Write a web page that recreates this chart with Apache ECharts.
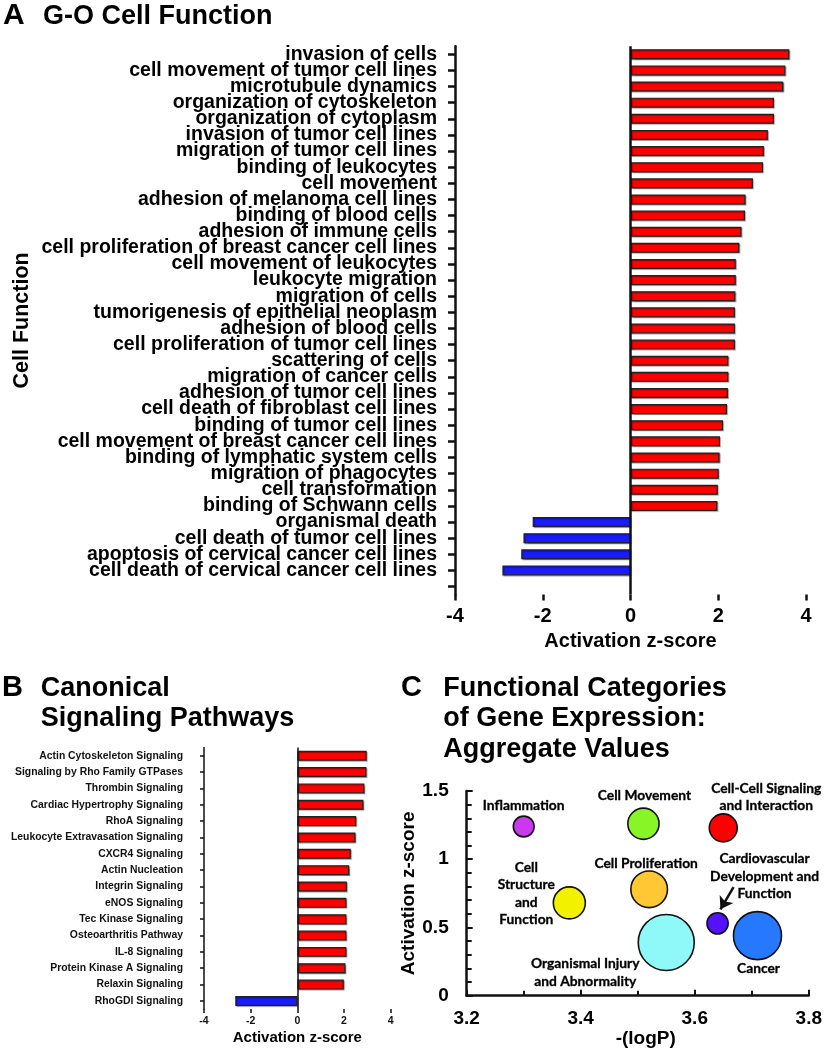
<!DOCTYPE html>
<html>
<head>
<meta charset="utf-8">
<script src="https://cdn.jsdelivr.net/npm/echarts@6/dist/echarts.min.js"></script>
<style>
  html, body { margin: 0; padding: 0; background: #fff; }
  #chart { width: 825px; height: 1051px; }
</style>
</head>
<body>
<div id="chart"></div>
<script>
// ---------- Panel A: G-O Cell Function ----------
const aCategories = [
  'invasion of cells', 'cell movement of tumor cell lines', 'microtubule dynamics',
  'organization of cytoskeleton', 'organization of cytoplasm', 'invasion of tumor cell lines',
  'migration of tumor cell lines', 'binding of leukocytes', 'cell movement',
  'adhesion of melanoma cell lines', 'binding of blood cells', 'adhesion of immune cells',
  'cell proliferation of breast cancer cell lines', 'cell movement of leukocytes', 'leukocyte migration',
  'migration of cells', 'tumorigenesis of epithelial neoplasm', 'adhesion of blood cells',
  'cell proliferation of tumor cell lines', 'scattering of cells', 'migration of cancer cells',
  'adhesion of tumor cell lines', 'cell death of fibroblast cell lines', 'binding of tumor cell lines',
  'cell movement of breast cancer cell lines', 'binding of lymphatic system cells', 'migration of phagocytes',
  'cell transformation', 'binding of Schwann cells', 'organismal death',
  'cell death of tumor cell lines', 'apoptosis of cervical cancer cell lines', 'cell death of cervical cancer cell lines',
  ''
];
const aValues = [
  3.62, 3.53, 3.48, 3.27, 3.27, 3.13, 3.04, 3.02, 2.79, 2.62, 2.61, 2.53, 2.48, 2.40, 2.40,
  2.39, 2.38, 2.38, 2.38, 2.23, 2.23, 2.22, 2.20, 2.11, 2.04, 2.03, 2.01, 1.99, 1.98,
  -2.23, -2.44, -2.49, -2.92, null
];
const aTicks = [-4, -2, 0, 2, 4];

// ---------- Panel B: Canonical Signaling Pathways ----------
const bCategories = [
  'Actin Cytoskeleton Signaling', 'Signaling by Rho Family GTPases', 'Thrombin Signaling',
  'Cardiac Hypertrophy Signaling', 'RhoA Signaling', 'Leukocyte Extravasation Signaling',
  'CXCR4 Signaling', 'Actin Nucleation', 'Integrin Signaling', 'eNOS Signaling',
  'Tec Kinase Signaling', 'Osteoarthritis Pathway', 'IL-8 Signaling',
  'Protein Kinase A Signaling', 'Relaxin Signaling', 'RhoGDI Signaling'
];
const bValues = [2.97, 2.96, 2.87, 2.83, 2.52, 2.49, 2.29, 2.22, 2.12, 2.10, 2.10, 2.10, 2.10, 2.06, 1.99, -2.66];

// ---------- Panel C: Functional Categories ----------
const cNames = [
  'Inflammation', 'Cell Movement', 'Cell-Cell Signaling\nand Interaction',
  'Cell\nStructure\nand\nFunction', 'Cell Proliferation', 'Cardiovascular\nDevelopment and\nFunction',
  'Cancer', 'Organismal Injury\nand Abnormality'
];
const cLogP = [3.30, 3.51, 3.65, 3.38, 3.52, 3.64, 3.71, 3.55];
const cZ = [1.24, 1.26, 1.23, 0.68, 0.78, 0.53, 0.44, 0.39];
const cCount = [27, 61, 49, 64, 84, 28, 144, 196];
const cArrow = [[3.668, 0.795], [3.645, 0.633]];

// ---------- styling (not data) ----------
const FONT = '"Liberation Sans", Arial, Helvetica, sans-serif';
const RED = '#ff0000', BLUE = '#1a1aff';
const cColors = ['#cc38ee', '#88f527', '#ff0000', '#f2f200', '#ffc733', '#5412ff', '#2679ff', '#8ff8f8'];
const cLabelOffsets = [[0, -21], [1, -28], [43, -31], [-43, -9.5], [-3, -26], [47, -47], [1, 33], [-81, 30]];

const barStyle = (v) => ({
  color: v >= 0 ? RED : BLUE,
  borderColor: '#222', borderWidth: 1.2,
  shadowColor: 'rgba(0,0,0,0.35)', shadowOffsetX: 1, shadowOffsetY: 1, shadowBlur: 1
});

const chart = echarts.init(document.getElementById('chart'), null, { renderer: 'canvas' });

const titleText = (x, y, text, size) => ({
  type: 'text', x: x, y: y,
  style: { text: text, font: 'bold ' + size + 'px ' + FONT, fill: '#000',
           textVerticalAlign: 'middle', verticalAlign: 'middle', textAlign: 'left', align: 'left' }
});

const option = {
  animation: false,
  backgroundColor: '#fff',
  graphic: [
    titleText(3, 16, 'A', 30),
    titleText(43, 16.5, 'G-O Cell Function', 27),
    titleText(2, 688, 'B', 29),
    titleText(40.7, 688.5, 'Canonical', 27),
    titleText(40.7, 718.7, 'Signaling Pathways', 27),
    titleText(401, 688, 'C', 29),
    titleText(443.3, 688.3, 'Functional Categories', 27),
    titleText(443.3, 719, 'of Gene Expression:', 27),
    titleText(443.3, 749.5, 'Aggregate Values', 27)
  ],
  grid: [
    { left: 455, width: 351, top: 46.2, height: 548.4 },
    { left: 204, width: 186.7, top: 747.5, height: 261.6 },
    { left: 466.7, width: 344, top: 791, height: 204.7 }
  ],
  xAxis: [
    {
      gridIndex: 0, type: 'value', min: aTicks[0], max: aTicks[aTicks.length - 1], interval: 2,
      splitLine: { show: false },
      axisLine: { onZero: false, lineStyle: { color: '#111', width: 2.5 } },
      axisTick: { show: true, length: 6, lineStyle: { color: '#111', width: 2.5 } },
      axisLabel: { margin: 12, fontFamily: FONT, fontWeight: 'bold', fontSize: 20, color: '#000' },
      name: 'Activation z-score', nameLocation: 'middle', nameGap: 37,
      nameTextStyle: { fontFamily: FONT, fontWeight: 'bold', fontSize: 20, color: '#000' }
    },
    {
      gridIndex: 1, type: 'value', min: -4, max: 4, interval: 2,
      splitLine: { show: false },
      axisLine: { onZero: false, lineStyle: { color: '#111', width: 1.5 } },
      axisTick: { show: true, length: 4, lineStyle: { color: '#111', width: 1.5 } },
      axisLabel: { margin: 7, fontFamily: FONT, fontWeight: 'bold', fontSize: 10.5, color: '#111' },
      name: 'Activation z-score', nameLocation: 'middle', nameGap: 21,
      nameTextStyle: { fontFamily: FONT, fontWeight: 'bold', fontSize: 15, color: '#000' }
    },
    {
      gridIndex: 2, type: 'value', min: 3.2, max: 3.8, interval: 0.2,
      splitLine: { show: false },
      axisLine: { onZero: false, lineStyle: { color: '#111', width: 2.5 } },
      axisTick: { show: true, inside: true, length: 6, lineStyle: { color: '#111', width: 2 } },
      minorTick: { show: true, splitNumber: 2, length: 5, lineStyle: { color: '#111', width: 2 } },
      axisLabel: { margin: 14, fontFamily: FONT, fontWeight: 'bold', fontSize: 19, color: '#000',
                   formatter: (v) => v.toFixed(1) },
      name: '-(logP)', nameLocation: 'middle', nameGap: 32,
      nameTextStyle: { fontFamily: FONT, fontWeight: 'bold', fontSize: 19, color: '#000', padding: [0, 0, 0, 16] }
    }
  ],
  yAxis: [
    {
      gridIndex: 0, type: 'category', data: aCategories, inverse: true,
      axisLine: { onZero: false, lineStyle: { color: '#111', width: 2.5 } },
      axisTick: { show: true, alignWithLabel: true, length: 7, lineStyle: { color: '#111', width: 2.5 } },
      axisLabel: { interval: 0, margin: 18, fontFamily: FONT, fontWeight: 'bold', fontSize: 19.5, color: '#000' },
      name: 'Cell Function', nameLocation: 'middle', nameGap: 422,
      nameTextStyle: { fontFamily: FONT, fontWeight: 'bold', fontSize: 21.5, color: '#000' }
    },
    {
      gridIndex: 1, type: 'category', data: bCategories, inverse: true,
      axisLine: { onZero: false, lineStyle: { color: '#111', width: 1.5 } },
      axisTick: { show: true, alignWithLabel: true, length: 4, lineStyle: { color: '#111', width: 1.5 } },
      axisLabel: { interval: 0, margin: 21, fontFamily: FONT, fontWeight: 'bold', fontSize: 10.4, color: '#111' }
    },
    {
      gridIndex: 2, type: 'value', min: 0, max: 1.5, interval: 0.5,
      splitLine: { show: false },
      axisLine: { onZero: false, lineStyle: { color: '#111', width: 2.5 } },
      axisTick: { show: true, inside: true, length: 6, lineStyle: { color: '#111', width: 2 } },
      minorTick: { show: true, splitNumber: 5, length: 5, lineStyle: { color: '#111', width: 2 } },
      axisLabel: { margin: 18, fontFamily: FONT, fontWeight: 'bold', fontSize: 19, color: '#000' },
      name: 'Activation z-score', nameLocation: 'middle', nameGap: 47,
      nameTextStyle: { fontFamily: FONT, fontWeight: 'bold', fontSize: 19, color: '#000' }
    }
  ],
  series: [
    {
      type: 'bar', xAxisIndex: 0, yAxisIndex: 0, barWidth: 10,
      data: aValues.map(v => v === null ? '-' : { value: v, itemStyle: barStyle(v) }),
      markLine: {
        silent: true, symbol: 'none', label: { show: false },
        lineStyle: { color: '#111', width: 2.5, type: 'solid' },
        data: [{ xAxis: 0 }]
      }
    },
    {
      type: 'bar', xAxisIndex: 1, yAxisIndex: 1, barWidth: 10,
      data: bValues.map(v => ({ value: v, itemStyle: barStyle(v) })),
      markLine: {
        silent: true, symbol: 'none', label: { show: false },
        lineStyle: { color: '#111', width: 1.5, type: 'solid' },
        data: [{ xAxis: 0 }]
      }
    },
    {
      type: 'scatter', xAxisIndex: 2, yAxisIndex: 2,
      symbolSize: (val) => 4 * Math.sqrt(val[2]),
      data: cNames.map((n, i) => ({
        name: n,
        value: [cLogP[i], cZ[i], cCount[i]],
        itemStyle: { color: cColors[i], borderColor: '#111', borderWidth: 1.6, opacity: 1 },
        label: { show: true, position: 'inside', offset: cLabelOffsets[i] }
      })),
      label: {
        show: true, formatter: (p) => p.name,
        fontFamily: 'Lato, "Open Sans", sans-serif', fontWeight: 'bold', fontSize: 13.8,
        color: '#000', lineHeight: 17.5, align: 'center',
        textBorderColor: '#000', textBorderWidth: 0.3
      },
      markLine: {
        silent: true, symbol: ['none', 'arrow'], symbolSize: 12,
        label: { show: false },
        lineStyle: { color: '#111', width: 2.5, type: 'solid' },
        data: [[{ coord: cArrow[0] }, { coord: cArrow[1] }]]
      }
    }
  ]
};
chart.setOption(option);
</script>
</body>
</html>
